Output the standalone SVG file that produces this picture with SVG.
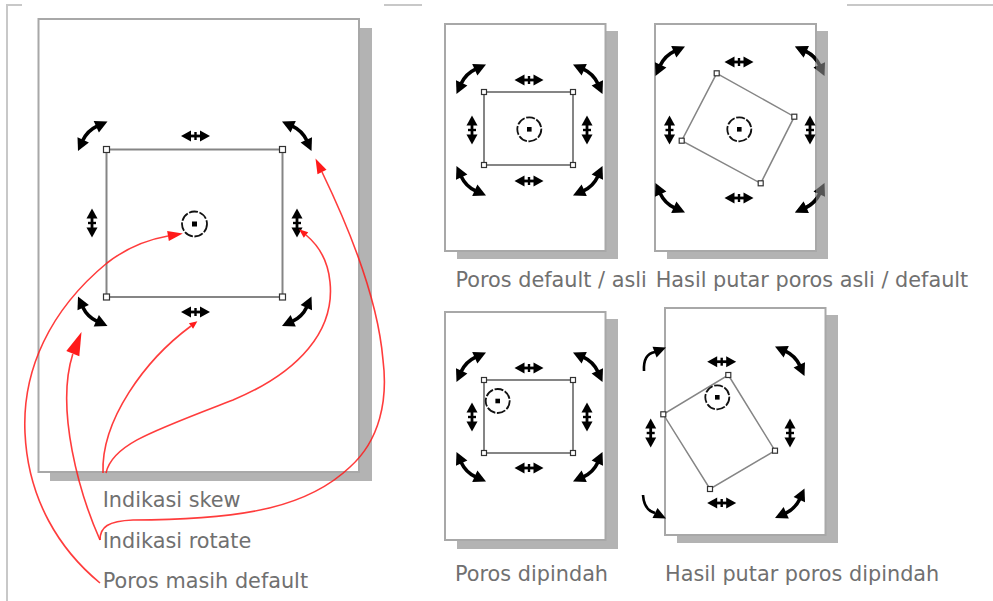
<svg xmlns="http://www.w3.org/2000/svg" width="993" height="601" viewBox="0 0 993 601">
<style>
.frame{stroke:#c8c8c8;stroke-width:2;fill:none}
.shadow{fill:#b3b3b3}
.page{fill:#fff;stroke:#a8a8a8;stroke-width:2}
.sel{fill:none;stroke:#858585;stroke-width:2}
.hdl{fill:#fff;stroke:#333;stroke-width:1.2}
.piv{fill:none;stroke:#111;stroke-width:1.8;stroke-dasharray:9 1.6}
.lbl{font-family:"DejaVu Sans",Verdana,sans-serif;font-size:20.8px;fill:#707070}
.red{fill:none;stroke:#ff1a1a;stroke-width:1.6;stroke-opacity:.85}
.redh{fill:#ff1a1a}
</style>
<defs>
<g id="rot">
<path d="M -9.8,4.6 Q -5.2,-5.2 4.6,-9.8" fill="none" stroke-width="3.6"/>
<polygon points="-14.5,15 -15,1.2 -3.6,6.4" stroke="none"/>
<polygon points="15,-14.5 1.2,-15 6.4,-3.6" stroke="none"/>
</g>
<g id="skh">
<path d="M -7,0 H 7" fill="none" stroke-width="2.8"/>
<polygon points="14.5,0 4.5,-5.5 4.5,5.5" stroke="none"/>
<polygon points="-14.5,0 -4.5,-5.5 -4.5,5.5" stroke="none"/>
<rect x="-1.2" y="-4" width="2.4" height="8" stroke="none"/>
</g>
<clipPath id="clipP2"><rect x="655" y="24" width="161" height="227"/></clipPath>
</defs>

<g id="frame">
<path class="frame" d="M7,601 V5 H22"/>
<path class="frame" d="M384,5 H422"/>
<path class="frame" d="M847,5 H993"/>
</g>

<g id="page-main">
<rect class="shadow" x="50" y="28" width="322" height="453"/>
<rect class="page" x="38.5" y="19" width="320.5" height="453"/>
<rect class="sel" x="106.5" y="149.5" width="176" height="147.5"/>
<g fill="#000" stroke="#000">
<use href="#rot" transform="translate(92.5,136)"/>
<use href="#rot" transform="translate(297,136) rotate(90)"/>
<use href="#rot" transform="translate(297,311.5) rotate(180)"/>
<use href="#rot" transform="translate(92.5,311.5) rotate(270)"/>
<use href="#skh" transform="translate(195.5,136)"/>
<use href="#skh" transform="translate(195.5,312)"/>
<use href="#skh" transform="translate(92,223) rotate(90)"/>
<use href="#skh" transform="translate(297,223) rotate(90)"/>
</g>
<rect class="hdl" x="103.5" y="146.5" width="6" height="6"/>
<rect class="hdl" x="279.5" y="146.5" width="6" height="6"/>
<rect class="hdl" x="103.5" y="294" width="6" height="6"/>
<rect class="hdl" x="279.5" y="294" width="6" height="6"/>
<circle class="piv" cx="194.5" cy="224" r="12.5"/>
<rect x="192" y="221.5" width="5" height="5" fill="#000"/>
</g>

<g id="page-1">
<rect class="shadow" x="457" y="31" width="161" height="228"/>
<rect class="page" x="445" y="24" width="160.5" height="227"/>
<rect class="sel" x="484" y="92" width="89" height="73"/>
<g fill="#000" stroke="#000">
<use href="#rot" transform="translate(471,79)"/>
<use href="#rot" transform="translate(588,79) rotate(90)"/>
<use href="#rot" transform="translate(588,181) rotate(180)"/>
<use href="#rot" transform="translate(471,181) rotate(270)"/>
<use href="#skh" transform="translate(529,80)"/>
<use href="#skh" transform="translate(529,181)"/>
<use href="#skh" transform="translate(472,130) rotate(90)"/>
<use href="#skh" transform="translate(587,130) rotate(90)"/>
</g>
<rect class="hdl" x="481.5" y="89.5" width="5" height="5"/>
<rect class="hdl" x="570.5" y="89.5" width="5" height="5"/>
<rect class="hdl" x="481.5" y="162.5" width="5" height="5"/>
<rect class="hdl" x="570.5" y="162.5" width="5" height="5"/>
<circle class="piv" cx="529.3" cy="129.3" r="12"/>
<rect x="527" y="127" width="4.6" height="4.6" fill="#000"/>
</g>

<g id="page-2">
<rect class="shadow" x="667" y="31" width="161" height="228"/>
<rect class="page" x="655" y="24" width="161" height="227"/>
<polygon class="sel" style="stroke-width:1.5" points="716.7,73.3 794.3,116.7 760.7,183.3 681.7,140.7"/>
<g fill="#000" stroke="#000">
<use href="#rot" transform="translate(670,61)"/>
<use href="#rot" transform="translate(670,198) rotate(270)"/>
<use href="#skh" transform="translate(739,62)"/>
<use href="#skh" transform="translate(739,198)"/>
<use href="#skh" transform="translate(669.5,130) rotate(90)"/>
<use href="#skh" transform="translate(810,130) rotate(90)"/>
</g>
<g fill="#555" stroke="#555">
<use href="#rot" transform="translate(810,61) rotate(90)"/>
<use href="#rot" transform="translate(810,198) rotate(180)"/>
</g>
<g fill="#000" stroke="#000" clip-path="url(#clipP2)">
<use href="#rot" transform="translate(810,61) rotate(90)"/>
<use href="#rot" transform="translate(810,198) rotate(180)"/>
</g>
<rect class="hdl" x="714.2" y="70.8" width="5" height="5"/>
<rect class="hdl" x="791.8" y="114.2" width="5" height="5"/>
<rect class="hdl" x="758.2" y="180.8" width="5" height="5"/>
<rect class="hdl" x="679.2" y="138.2" width="5" height="5"/>
<circle class="piv" cx="739.3" cy="129.3" r="12"/>
<rect x="737" y="127" width="4.6" height="4.6" fill="#000"/>
</g>

<g id="page-3">
<rect class="shadow" x="457" y="319" width="161" height="230"/>
<rect class="page" x="445" y="312" width="160.5" height="228"/>
<rect class="sel" x="484" y="380" width="89" height="73"/>
<g fill="#000" stroke="#000">
<use href="#rot" transform="translate(471,367)"/>
<use href="#rot" transform="translate(588,367) rotate(90)"/>
<use href="#rot" transform="translate(588,467) rotate(180)"/>
<use href="#rot" transform="translate(471,467) rotate(270)"/>
<use href="#skh" transform="translate(529,368)"/>
<use href="#skh" transform="translate(529,468)"/>
<use href="#skh" transform="translate(472,417) rotate(90)"/>
<use href="#skh" transform="translate(587,417) rotate(90)"/>
</g>
<rect class="hdl" x="481.5" y="377.5" width="5" height="5"/>
<rect class="hdl" x="570.5" y="377.5" width="5" height="5"/>
<rect class="hdl" x="481.5" y="450.5" width="5" height="5"/>
<rect class="hdl" x="570.5" y="450.5" width="5" height="5"/>
<circle class="piv" cx="497.7" cy="401" r="12"/>
<rect x="495.4" y="398.7" width="4.6" height="4.6" fill="#000"/>
</g>

<g id="page-4">
<rect class="shadow" x="677" y="315" width="161" height="228"/>
<rect class="page" x="665" y="308" width="160.5" height="227"/>
<polygon class="sel" style="stroke-width:1.5" points="728.3,375 775,450.7 710,489 663.3,414.3"/>
<g fill="#000" stroke="#000">
<use href="#rot" transform="translate(790,361) rotate(90)"/>
<use href="#rot" transform="translate(790,503.5) rotate(180)"/>
<use href="#skh" transform="translate(721.7,361.7)"/>
<use href="#skh" transform="translate(721.7,503)"/>
<use href="#skh" transform="translate(650.7,433) rotate(90)"/>
<use href="#skh" transform="translate(790,433) rotate(90)"/>
<path d="M 644,371 Q 643,354 655,352" fill="none" stroke-width="2.6"/>
<polygon points="666,347.5 656.6,357.5 652.5,346.8" stroke="none"/>
<path d="M 643,495 Q 644,510 655,513" fill="none" stroke-width="2.6"/>
<polygon points="666,518.5 652.5,518 657.5,508" stroke="none"/>
</g>
<rect class="hdl" x="725.8" y="372.5" width="5" height="5"/>
<rect class="hdl" x="772.5" y="448.2" width="5" height="5"/>
<rect class="hdl" x="707.5" y="486.5" width="5" height="5"/>
<rect class="hdl" x="660.8" y="411.8" width="5" height="5"/>
<circle class="piv" cx="717.3" cy="397.3" r="12"/>
<rect x="715" y="395" width="4.6" height="4.6" fill="#000"/>
</g>

<g id="connectors">
<path class="red" d="M 103,473 C 101,420 145,360 191,326"/>
<polygon class="redh" points="197.4,321.3 193.1,328.8 188.9,323.2"/>
<path class="red" d="M 106,473 C 112,445 150,432 233,400 C 300,372 335,330 330,282 C 328,260 318,245 306,235"/>
<polygon class="redh" points="299,229.2 308.2,232.3 303.8,237.7"/>
<path class="red" d="M 100,540 C 80,495 55,410 72.8,354"/>
<polygon class="redh" points="81.5,332 79.3,356.3 66.3,351.1"/>
<path class="red" d="M 100,540 C 100,527 108,521 133,520 C 250,520 310,505 350,467 C 380,440 388,400 383,360 C 378,300 350,230 322,172"/>
<polygon class="redh" points="315.5,158.5 326.5,169.8 317.5,174.2"/>
<path class="red" d="M 100,583 C 60,550 28,500 25,433 C 22,370 50,310 107,263 C 125,249 145,240 168,236"/>
<polygon class="redh" points="182.8,233.4 168.85,240.9 167.15,231.1"/>
</g>

<g id="labels">
<text class="lbl" x="102.7" y="506.7">Indikasi skew</text>
<text class="lbl" x="102.7" y="548.3">Indikasi rotate</text>
<text class="lbl" x="102.7" y="588.3">Poros masih default</text>
<text class="lbl" x="455.5" y="286.5">Poros default / asli</text>
<text class="lbl" x="655.7" y="286.5">Hasil putar poros asli / default</text>
<text class="lbl" x="455" y="581">Poros dipindah</text>
<text class="lbl" x="665" y="581">Hasil putar poros dipindah</text>
</g>
</svg>
